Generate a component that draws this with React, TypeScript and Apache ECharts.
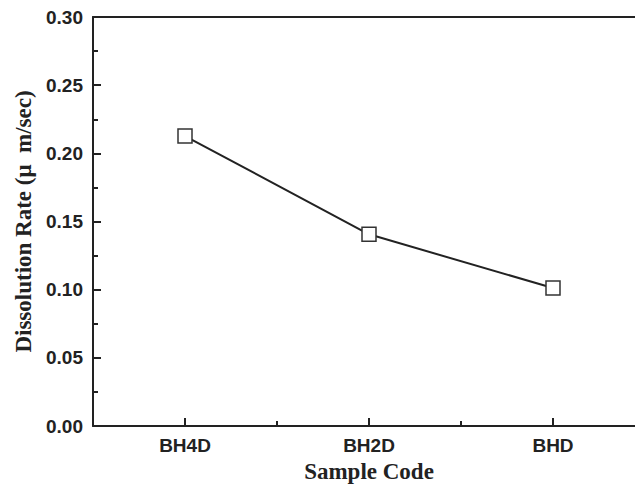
import React, { useEffect, useRef } from "react";
import * as echarts from "echarts";

const categories = ["BH4D", "BH2D", "BHD"];
const rates = [0.2127, 0.1406, 0.1012];
const yTicks = { min: 0, max: 0.3, interval: 0.05 };

export default function App() {
  const ref = useRef<HTMLDivElement>(null);
  useEffect(() => {
    if (!ref.current) return;
    const chart = echarts.init(ref.current, null, { renderer: "svg" });
    const axisColor = "#222";
    const labelFont = { color: "#222", fontFamily: "Liberation Sans, Arial", fontWeight: "bold" as const, fontSize: 19 };
    const nameFont = { color: "#222", fontFamily: "Liberation Serif, Times New Roman", fontWeight: "bold" as const, fontSize: 23 };
    chart.setOption({
      animation: false,
      backgroundColor: "#fff",
      grid: { left: 93, top: 17, width: 552, bottom: 59, containLabel: false, outerBoundsMode: "none" },
      xAxis: [
        {
          type: "category",
          data: categories,
          boundaryGap: true,
          position: "bottom",
          axisLine: { show: true, lineStyle: { color: axisColor, width: 2 } },
          axisTick: { show: true, inside: true, alignWithLabel: true, length: 8, lineStyle: { color: axisColor, width: 2 } },
          axisLabel: { ...labelFont, margin: 10 },
          splitLine: { show: false },
          name: "Sample Code",
          nameLocation: "middle",
          nameGap: 32,
          nameTextStyle: nameFont,
        },
        {
          type: "category",
          data: categories,
          boundaryGap: true,
          position: "bottom",
          axisLine: { show: false },
          axisTick: { show: true, inside: true, alignWithLabel: false, length: 5, lineStyle: { color: axisColor, width: 2 } },
          axisLabel: { show: false },
          splitLine: { show: false },
        },
        {
          type: "category",
          data: categories,
          position: "top",
          axisLine: { show: true, lineStyle: { color: axisColor, width: 2 } },
          axisTick: { show: false },
          axisLabel: { show: false },
          splitLine: { show: false },
        },
      ],
      yAxis: {
        type: "value",
        min: yTicks.min,
        max: yTicks.max,
        interval: yTicks.interval,
        axisLine: { show: true, lineStyle: { color: axisColor, width: 2 } },
        axisTick: { show: true, inside: true, length: 8, lineStyle: { color: axisColor, width: 2 } },
        minorTick: { show: true, splitNumber: 2, length: 5, lineStyle: { color: axisColor, width: 2 } },
        axisLabel: {
          ...labelFont,
          margin: 10,
          formatter: (v: number) => v.toFixed(2),
        },
        splitLine: { show: false },
        name: "Dissolution Rate (\u03bc  m/sec)",
        nameLocation: "middle",
        nameGap: 58,
        nameTextStyle: nameFont,
      },
      series: [
        {
          type: "line",
          xAxisIndex: 0,
          data: rates,
          symbol: "rect",
          symbolSize: 14,
          showAllSymbol: true,
          lineStyle: { color: "#222", width: 2 },
          itemStyle: { color: "#fff", borderColor: "#333", borderWidth: 1.5 },
          z: 3,
        },
      ],
    });
    return () => chart.dispose();
  }, []);
  return (
    <div
      ref={ref}
      style={{ position: "absolute", left: 0, top: 0, width: 635, height: 485, overflow: "hidden" }}
    />
  );
}
